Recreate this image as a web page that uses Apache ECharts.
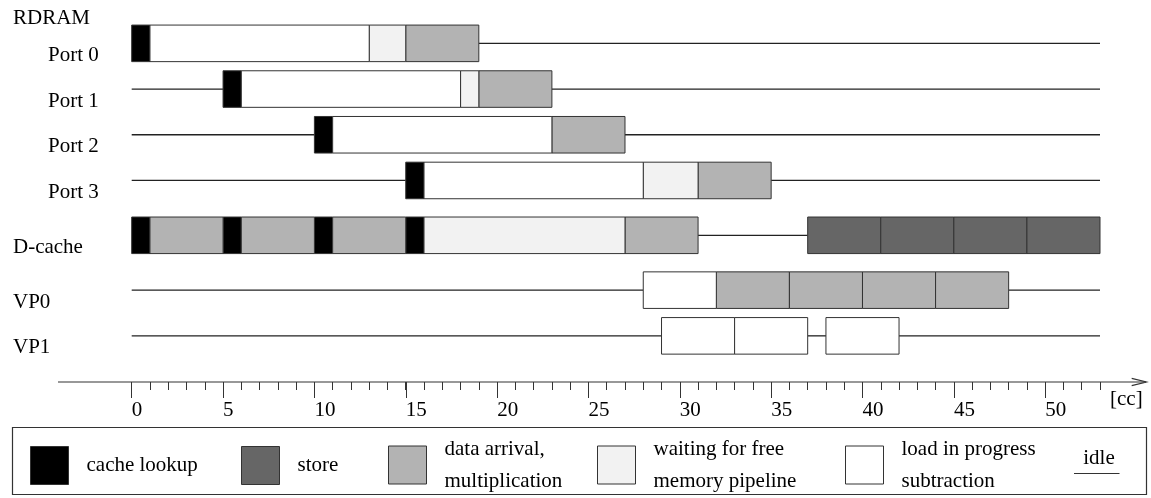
<!DOCTYPE html>
<html>
<head>
<meta charset="utf-8">
<script src="https://cdn.jsdelivr.net/npm/echarts@6/dist/echarts.min.js"></script>
<style>
html,body{margin:0;padding:0;background:#fff}
#chart{width:1151px;height:498px}
</style>
</head>
<body>
<div id="chart"></div>
<script>
// rows of the timing diagram
var rows = ['Port 0', 'Port 1', 'Port 2', 'Port 3', 'D-cache', 'VP0', 'VP1'];
// segments: [row, start cc, end cc]
var cacheLookup = [[0, 0, 1], [1, 5, 6], [2, 10, 11], [3, 15, 16], [4, 0, 1], [4, 5, 6], [4, 10, 11], [4, 15, 16]];
var store = [[4, 37, 41], [4, 41, 45], [4, 45, 49], [4, 49, 53]];
var dataArrival = [[0, 15, 19], [1, 19, 23], [2, 23, 27], [3, 31, 35], [4, 1, 5], [4, 6, 10], [4, 11, 15], [4, 27, 31],
    [5, 32, 36], [5, 36, 40], [5, 40, 44], [5, 44, 48]];
var waiting = [[0, 13, 15], [1, 18, 19], [3, 28, 31], [4, 16, 27]];
var loading = [[0, 1, 13], [1, 6, 18], [2, 11, 23], [3, 16, 28], [5, 28, 32], [6, 29, 33], [6, 33, 37], [6, 38, 42]];
var idle = [[0, 19, 53], [1, 0, 5], [1, 23, 53], [2, 0, 10], [2, 27, 53], [3, 0, 15], [3, 35, 53], [4, 31, 37],
    [5, 0, 28], [5, 48, 53], [6, 0, 29], [6, 37, 38], [6, 42, 53]];
var legendNames = ['cache lookup', 'store', 'data arrival,\nmultiplication', 'waiting for free\nmemory pipeline', 'load in progress\nsubtraction'];

// layout only: vertical slot of each row (the groups are spaced a bit apart)
var rowSlot = [0, 1, 2, 3, 4.2, 5.4, 6.4];
var FONT = "'Liberation Serif', 'Times New Roman', serif";
var colors = ['#000000', '#666666', '#b3b3b3', '#f2f2f2', '#ffffff'];

function bar(params, api) {
    var slot = rowSlot[api.value(0)];
    var p0 = api.coord([api.value(1), slot - 0.4]);
    var p1 = api.coord([api.value(2), slot + 0.4]);
    return {
        type: 'rect',
        shape: {x: p0[0], y: p0[1], width: p1[0] - p0[0], height: p1[1] - p0[1]},
        style: {fill: api.visual('color'), stroke: '#333', lineWidth: 1}
    };
}
function idleLine(params, api) {
    var slot = rowSlot[api.value(0)];
    var a = api.coord([api.value(1), slot]);
    var b = api.coord([api.value(2), slot]);
    return {
        type: 'line',
        shape: {x1: a[0], y1: a[1], x2: b[0], y2: b[1]},
        style: {stroke: '#222', lineWidth: 1.3}
    };
}
function barSeries(name, data, color) {
    return {type: 'custom', name: name, renderItem: bar, data: data, silent: true,
        encode: {x: [1, 2], y: 0}, itemStyle: {color: color}};
}
function legendAt(i, left, top) {
    return {
        left: left, top: top, padding: 0, selectedMode: false, orient: 'horizontal',
        itemWidth: 38, itemHeight: 38,
        data: [{name: legendNames[i], icon: 'rect', itemStyle: {color: colors[i], borderColor: '#333', borderWidth: 1}}],
        textStyle: {fontFamily: FONT, fontSize: 21, color: '#000', lineHeight: 32, padding: [0, 0, 0, 13]}
    };
}

var option = {
    animation: false,
    backgroundColor: '#fff',
    title: {text: 'RDRAM', left: 13, top: 8, padding: 0,
        textStyle: {fontFamily: FONT, fontSize: 21, fontWeight: 'normal', color: '#000'}},
    grid: [
        {left: 131.7, top: 20.5, width: 968.3, height: 338.2, outerBoundsMode: 'none'},
        {left: 131.7, top: 20.5, width: 913.6, height: 338.2, outerBoundsMode: 'none'}
    ],
    xAxis: [{
        gridIndex: 0, type: 'value', min: 0, max: 53, interval: 1, position: 'bottom', offset: 23.3,
        axisLine: {show: false, onZero: false},
        axisTick: {show: true, length: 8, lineStyle: {color: '#333', width: 1}},
        axisLabel: {show: false},
        splitLine: {show: false},
        name: '[cc]', nameLocation: 'end', nameGap: 10,
        nameTextStyle: {fontFamily: FONT, fontSize: 21, color: '#000', align: 'left', verticalAlign: 'top', padding: [7, 0, 0, 0]}
    }, {
        gridIndex: 1, type: 'value', min: 0, max: 50, interval: 5, position: 'bottom', offset: 23.3,
        axisLine: {show: false, onZero: false},
        axisTick: {show: true, length: 16, lineStyle: {color: '#333', width: 1}},
        axisLabel: {align: 'left', margin: 18, fontFamily: FONT, fontSize: 21, color: '#000'},
        splitLine: {show: false}
    }],
    yAxis: [{
        gridIndex: 0, type: 'value', inverse: true, min: -0.5, max: 6.9,
        axisLine: {show: false, onZero: false}, axisTick: {show: false}, splitLine: {show: false},
        axisLabel: {
            customValues: rowSlot, align: 'left', margin: 118.7, verticalAlign: 'middle',
            formatter: function (v) {
                var k = 0;
                for (var i = 0; i < rowSlot.length; i++) {
                    if (Math.abs(rowSlot[i] - v) < Math.abs(rowSlot[k] - v)) k = i;
                }
                return (k < 4 ? '{p|' : '{q|') + rows[k] + '}';
            },
            rich: {
                p: {fontFamily: FONT, fontSize: 21, color: '#000', padding: [24, 0, 0, 35]},
                q: {fontFamily: FONT, fontSize: 21, color: '#000', padding: [24, 0, 0, 0]}
            }
        }
    }, {
        gridIndex: 1, type: 'value', show: false, min: 0, max: 1
    }],
    legend: [
        legendAt(0, 30, 446),
        legendAt(1, 241, 446),
        legendAt(2, 388, 433),
        legendAt(3, 597, 433),
        legendAt(4, 845, 433)
    ],
    graphic: [
        // time axis line with open arrow head
        {type: 'line', shape: {x1: 58, y1: 382, x2: 1146, y2: 382}, style: {stroke: '#333', lineWidth: 1.2}},
        {type: 'polyline', shape: {points: [[1131.7, 378.3], [1146.5, 382], [1131.7, 385.7]]}, style: {stroke: '#333', lineWidth: 1.2, fill: null}},
        // legend frame
        {type: 'rect', shape: {x: 12.5, y: 427.5, width: 1134, height: 67}, style: {fill: null, stroke: '#333', lineWidth: 1.2}},
        {type: 'text', x: 1099, y: 458.5, style: {text: 'idle', fontFamily: FONT, fontSize: 21, fill: '#000', align: 'center', verticalAlign: 'middle'}},
        {type: 'line', shape: {x1: 1074, y1: 473.5, x2: 1119.5, y2: 473.5}, style: {stroke: '#333', lineWidth: 1.2}}
    ],
    series: [
        {type: 'custom', name: 'idle', renderItem: idleLine, data: idle, silent: true, encode: {x: [1, 2], y: 0}},
        barSeries(legendNames[0], cacheLookup, colors[0]),
        barSeries(legendNames[1], store, colors[1]),
        barSeries(legendNames[2], dataArrival, colors[2]),
        barSeries(legendNames[3], waiting, colors[3]),
        barSeries(legendNames[4], loading, colors[4])
    ]
};

var myChart = echarts.init(document.getElementById('chart'));
myChart.setOption(option);
</script>
</body>
</html>
